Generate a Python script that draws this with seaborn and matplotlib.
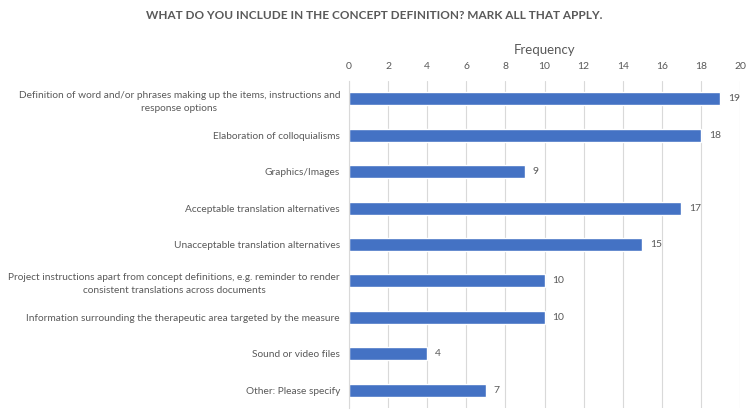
import matplotlib
matplotlib.use("Agg")
import matplotlib.pyplot as plt
import seaborn as sns
import pandas as pd

# --- DATA ---
categories = [
    "Definition of word and/or phrases making up the items, instructions and\nresponse options",
    "Elaboration of colloquialisms",
    "Graphics/Images",
    "Acceptable translation alternatives",
    "Unacceptable translation alternatives",
    "Project instructions apart from concept definitions, e.g. reminder to render\nconsistent translations across documents",
    "Information surrounding the therapeutic area targeted by the measure",
    "Sound or video files",
    "Other: Please specify",
]
frequency = [19, 18, 9, 17, 15, 10, 10, 4, 7]
x_ticks = list(range(0, 21, 2))

df = pd.DataFrame({"category": categories, "frequency": frequency})

# --- STYLE ---
sns.set_style("white")
plt.rcParams["font.family"] = ["Lato", "DejaVu Sans"]
text_grey = "#595959"

fig = plt.figure(figsize=(7.49, 4.12), dpi=100)
ax = fig.add_axes([0.466, 0.009, 0.522, 0.795])

sns.barplot(data=df, x="frequency", y="category", color="#4472C4",
            width=0.36, ax=ax, saturation=1)

ax.set_xlim(0, 20)
ax.set_xticks(x_ticks)
ax.xaxis.tick_top()
ax.xaxis.set_label_position("top")
ax.set_xlabel("Frequency", fontsize=9.5, color=text_grey, labelpad=6)
ax.set_ylabel("")
ax.tick_params(axis="x", length=0, labelsize=7.5, labelcolor=text_grey, pad=7)
ax.tick_params(axis="y", length=0, labelsize=7.3, labelcolor=text_grey, pad=6.5)
for lbl in ax.get_yticklabels():
    lbl.set_multialignment("center")
    lbl.set_linespacing(1.6)

# light vertical gridlines, Excel-style
ax.grid(axis="x", color="#d9d9d9", linewidth=0.8)
ax.set_axisbelow(True)
for s in ["top", "right", "bottom"]:
    ax.spines[s].set_visible(False)
ax.spines["left"].set_color("#d9d9d9")
ax.spines["left"].set_linewidth(0.8)

# value labels
for i, v in enumerate(frequency):
    ax.text(v + 0.4, i, str(v), va="center", ha="left", fontsize=7.5, color=text_grey)

fig.text(0.5, 0.962, "WHAT DO YOU INCLUDE IN THE CONCEPT DEFINITION? MARK ALL THAT APPLY.",
         ha="center", va="center", fontsize=8.5, fontweight="bold", color=text_grey)

fig.savefig("out.png", dpi=100)
